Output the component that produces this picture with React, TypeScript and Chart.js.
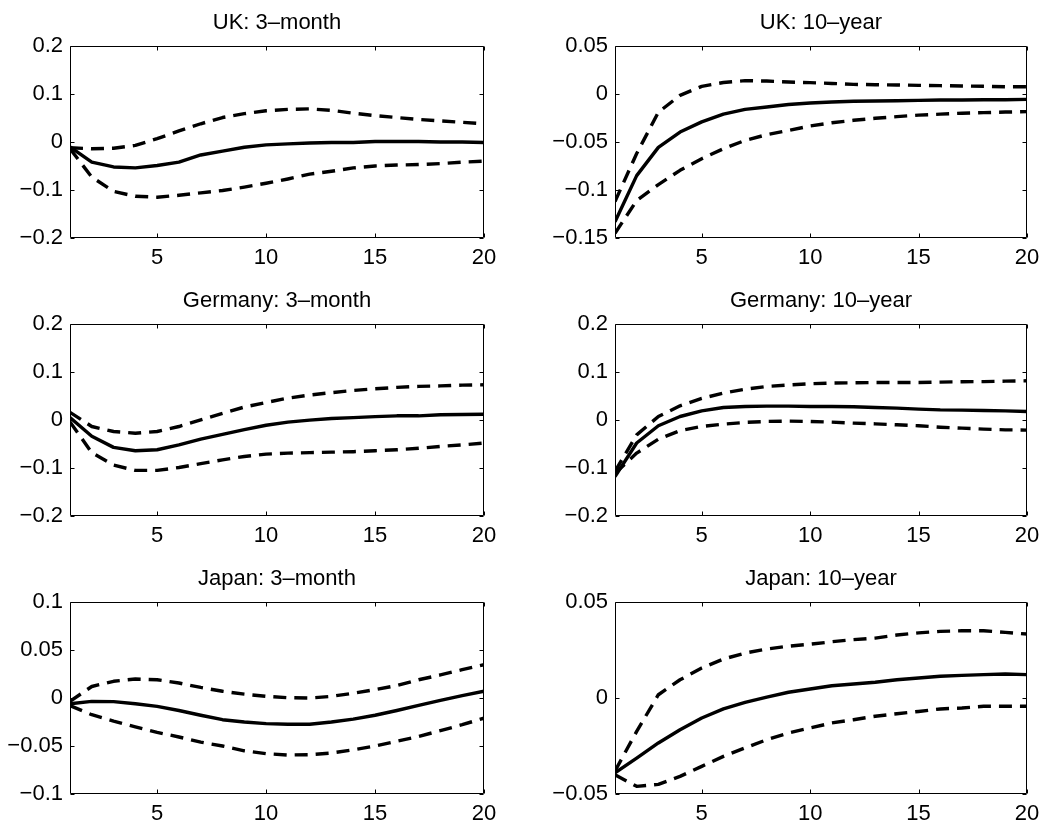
import React, { useEffect, useRef } from "react";
import { Chart, registerables } from "chart.js";

Chart.register(...registerables);

// ---------- data ----------
const horizons = [1, 2, 3, 4, 5, 6, 7, 8, 9, 10, 11, 12, 13, 14, 15, 16, 17, 18, 19, 20];
const xTickValues = [5, 10, 15, 20];
const xTickLabels = ["5", "10", "15", "20"];

const titles = [
  "UK: 3–month",
  "UK: 10–year",
  "Germany: 3–month",
  "Germany: 10–year",
  "Japan: 3–month",
  "Japan: 10–year",
];

const yTicksWide = [-0.2, -0.1, 0, 0.1, 0.2];
const yLabelsWide = ["−0.2", "−0.1", "0", "0.1", "0.2"];
const yTicksUK10 = [-0.15, -0.1, -0.05, 0, 0.05];
const yLabelsUK10 = ["−0.15", "−0.1", "−0.05", "0", "0.05"];
const yTicksJP3 = [-0.1, -0.05, 0, 0.05, 0.1];
const yLabelsJP3 = ["−0.1", "−0.05", "0", "0.05", "0.1"];
const yTicksJP10 = [-0.05, 0, 0.05];
const yLabelsJP10 = ["−0.05", "0", "0.05"];

// UK 3-month
const ukShortMedian = [-0.01, -0.042, -0.052, -0.054, -0.049, -0.042, -0.027, -0.019, -0.011, -0.006, -0.004, -0.002, -0.001, -0.001, 0.001, 0.001, 0.001, 0, 0, -0.001];
const ukShortUpper = [-0.012, -0.014, -0.013, -0.007, 0.007, 0.023, 0.038, 0.051, 0.059, 0.065, 0.068, 0.069, 0.066, 0.06, 0.055, 0.051, 0.047, 0.044, 0.041, 0.038];
const ukShortLower = [-0.014, -0.073, -0.103, -0.113, -0.115, -0.111, -0.106, -0.101, -0.094, -0.086, -0.077, -0.067, -0.061, -0.054, -0.05, -0.048, -0.047, -0.045, -0.042, -0.04];

// UK 10-year
const ukLongMedian = [-0.133, -0.085, -0.0556, -0.0396, -0.029, -0.021, -0.016, -0.0135, -0.011, -0.0094, -0.0083, -0.0076, -0.0073, -0.007, -0.0066, -0.0063, -0.0063, -0.006, -0.006, -0.0056];
const ukLongUpper = [-0.112, -0.062, -0.019, -0.0014, 0.008, 0.012, 0.0139, 0.0135, 0.0125, 0.0118, 0.011, 0.01, 0.0097, 0.0094, 0.009, 0.0087, 0.0083, 0.008, 0.0076, 0.0076];
const ukLongLower = [-0.145, -0.111, -0.0944, -0.0795, -0.0674, -0.057, -0.0483, -0.0424, -0.038, -0.0333, -0.03, -0.0274, -0.0253, -0.0236, -0.022, -0.021, -0.02, -0.0194, -0.0188, -0.0184];

// Germany 3-month
const deShortMedian = [0.005, -0.034, -0.057, -0.064, -0.062, -0.052, -0.04, -0.03, -0.02, -0.011, -0.0045, -0.0003, 0.003, 0.005, 0.007, 0.0087, 0.0087, 0.011, 0.0115, 0.012];
const deShortUpper = [0.016, -0.0136, -0.024, -0.0275, -0.024, -0.0136, 0.0003, 0.014, 0.027, 0.0365, 0.0456, 0.052, 0.057, 0.0616, 0.065, 0.068, 0.07, 0.071, 0.0727, 0.0734];
const deShortLower = [-0.004, -0.068, -0.094, -0.105, -0.105, -0.099, -0.091, -0.083, -0.076, -0.071, -0.069, -0.068, -0.067, -0.066, -0.064, -0.062, -0.059, -0.055, -0.052, -0.048];

// Germany 10-year
const deLongMedian = [-0.118, -0.048, -0.012, 0.0073, 0.019, 0.026, 0.028, 0.029, 0.029, 0.028, 0.028, 0.0275, 0.026, 0.0247, 0.0226, 0.021, 0.0205, 0.0198, 0.019, 0.0177];
const deLongUpper = [-0.107, -0.031, 0.0073, 0.0296, 0.045, 0.056, 0.064, 0.07, 0.073, 0.0755, 0.077, 0.0776, 0.078, 0.078, 0.078, 0.079, 0.0797, 0.08, 0.081, 0.0817];
const deLongLower = [-0.111, -0.069, -0.04, -0.022, -0.0135, -0.0087, -0.005, -0.003, -0.0024, -0.003, -0.0045, -0.0066, -0.008, -0.01, -0.012, -0.015, -0.017, -0.019, -0.0205, -0.021];

// Japan 3-month
const jpShortMedian = [-0.006, -0.0035, -0.0038, -0.006, -0.0087, -0.013, -0.018, -0.0226, -0.025, -0.0267, -0.0274, -0.0274, -0.025, -0.022, -0.018, -0.013, -0.0076, -0.0024, 0.0024, 0.007];
const jpShortUpper = [-0.0035, 0.012, 0.0174, 0.0198, 0.019, 0.0156, 0.011, 0.007, 0.004, 0.0017, 0.0003, 0, 0.0017, 0.005, 0.0087, 0.013, 0.019, 0.024, 0.0295, 0.0347];
const jpShortLower = [-0.008, -0.0174, -0.024, -0.03, -0.0358, -0.0406, -0.046, -0.05, -0.055, -0.058, -0.0594, -0.059, -0.0573, -0.054, -0.05, -0.045, -0.04, -0.034, -0.0278, -0.021];

// Japan 10-year
const jpLongMedian = [-0.039, -0.0313, -0.0234, -0.0165, -0.0104, -0.0057, -0.0023, 0.0005, 0.003, 0.0047, 0.0064, 0.0073, 0.0082, 0.0095, 0.0104, 0.0113, 0.0118, 0.0122, 0.0125, 0.0122];
const jpLongUpper = [-0.038, -0.0174, 0.0017, 0.0095, 0.0156, 0.0203, 0.0234, 0.0255, 0.027, 0.028, 0.0293, 0.0304, 0.0312, 0.0328, 0.0339, 0.0347, 0.035, 0.035, 0.0342, 0.0333];
const jpLongLower = [-0.04, -0.046, -0.045, -0.0408, -0.0356, -0.0304, -0.026, -0.0217, -0.0182, -0.0156, -0.013, -0.0113, -0.0095, -0.0082, -0.007, -0.0057, -0.0052, -0.0043, -0.0043, -0.0043];

// ---------- presentation ----------
const FONT = "'Liberation Sans', Arial, Helvetica, sans-serif";
const TICK_LEN = 4;

type PanelProps = {
  title: string;
  median: number[];
  upper: number[];
  lower: number[];
  yTicks: number[];
  yLabels: string[];
  left: number;
  top: number;
  width: number;
  height: number;
  axisWidth: number;
  padRight: number;
};

function Panel(p: PanelProps) {
  const ref = useRef<HTMLCanvasElement | null>(null);

  useEffect(() => {
    if (!ref.current) return;
    const yTicks = p.yTicks;
    const frame = {
      id: "frame",
      afterDatasetsDraw(chart: any) {
        const { ctx, chartArea: a, scales } = chart;
        const L = Math.round(a.left) + 0.5;
        const R = Math.round(a.right) - 0.5;
        const T = Math.round(a.top) + 0.5;
        const B = Math.round(a.bottom) - 0.5;
        ctx.save();
        ctx.strokeStyle = "#000";
        ctx.lineWidth = 1;
        ctx.setLineDash([]);
        ctx.beginPath();
        ctx.rect(L, T, R - L, B - T);
        for (const v of xTickValues) {
          const px = Math.round(scales.x.getPixelForValue(v)) + 0.5;
          ctx.moveTo(px, B);
          ctx.lineTo(px, B - TICK_LEN);
          ctx.moveTo(px, T);
          ctx.lineTo(px, T + TICK_LEN);
        }
        for (const v of yTicks) {
          const py = Math.round(scales.y.getPixelForValue(v)) + 0.5;
          ctx.moveTo(L, py);
          ctx.lineTo(L + TICK_LEN, py);
          ctx.moveTo(R, py);
          ctx.lineTo(R - TICK_LEN, py);
        }
        ctx.stroke();
        ctx.restore();
      },
    };

    const line = (vals: number[], dashed: boolean) => ({
      data: horizons.map((h, i) => ({ x: h, y: vals[i] })),
      borderColor: "#000",
      borderWidth: 3.4,
      borderDash: dashed ? [13, 8] : [],
      borderJoinStyle: "round" as const,
      pointRadius: 0,
      tension: 0,
      fill: false,
    });

    const chart = new Chart(ref.current, {
      type: "line",
      data: {
        datasets: [line(p.upper, true), line(p.lower, true), line(p.median, false)],
      },
      options: {
        animation: false,
        responsive: true,
        maintainAspectRatio: false,
        layout: { padding: { left: 0, right: p.padRight, top: 0, bottom: 0 } },
        plugins: {
          legend: { display: false },
          tooltip: { enabled: false },
          title: {
            display: true,
            text: p.title,
            fullSize: false,
            color: "#000",
            font: { family: FONT, size: 22, weight: "normal", lineHeight: 1.2 },
            padding: { top: 9.3, bottom: 10.3 },
          },
        },
        scales: {
          x: {
            type: "linear",
            min: 1,
            max: 20,
            grid: { display: false, drawTicks: false },
            border: { display: false },
            afterBuildTicks: (s: any) => {
              s.ticks = xTickValues.map((v) => ({ value: v }));
            },
            afterFit: (s: any) => {
              s.height = 40;
              s.paddingLeft = 0;
              s.paddingRight = 0;
            },
            ticks: {
              padding: 7,
              color: "#000",
              autoSkip: false,
              maxRotation: 0,
              font: { family: FONT, size: 22 },
              callback: (_v: any, i: number) => xTickLabels[i],
            },
          },
          y: {
            type: "linear",
            min: yTicks[0],
            max: yTicks[yTicks.length - 1],
            grid: { display: false, drawTicks: false },
            border: { display: false },
            afterBuildTicks: (s: any) => {
              s.ticks = yTicks.map((v) => ({ value: v }));
            },
            afterFit: (s: any) => {
              s.width = p.axisWidth;
              s.paddingTop = 0;
              s.paddingBottom = 0;
            },
            ticks: {
              padding: 7,
              color: "#000",
              autoSkip: false,
              font: { family: FONT, size: 22 },
              callback: (_v: any, i: number) => p.yLabels[i],
            },
          },
        },
      },
      plugins: [frame],
    } as any);

    return () => chart.destroy();
  }, []);

  return (
    <div
      style={{
        position: "absolute",
        left: p.left,
        top: p.top,
        width: p.width,
        height: p.height,
      }}
    >
      <canvas ref={ref} />
    </div>
  );
}

export default function App() {
  const series = [
    [ukShortMedian, ukShortUpper, ukShortLower, yTicksWide, yLabelsWide],
    [ukLongMedian, ukLongUpper, ukLongLower, yTicksUK10, yLabelsUK10],
    [deShortMedian, deShortUpper, deShortLower, yTicksWide, yLabelsWide],
    [deLongMedian, deLongUpper, deLongLower, yTicksWide, yLabelsWide],
    [jpShortMedian, jpShortUpper, jpShortLower, yTicksJP3, yLabelsJP3],
    [jpLongMedian, jpLongUpper, jpLongLower, yTicksJP10, yLabelsJP10],
  ] as any[];

  const rowTops = [0, 278, 556];

  return (
    <div
      style={{
        position: "absolute",
        left: 0,
        top: 0,
        width: 1044,
        height: 822,
        overflow: "hidden",
        background: "#fff",
      }}
    >
      {series.map((s, i) => {
        const col = i % 2;
        const row = Math.floor(i / 2);
        return (
          <Panel
            key={i}
            title={titles[i]}
            median={s[0]}
            upper={s[1]}
            lower={s[2]}
            yTicks={s[3]}
            yLabels={s[4]}
            left={col === 0 ? 0 : 520}
            top={rowTops[row]}
            width={520}
            height={278}
            axisWidth={col === 0 ? 70 : 95}
            padRight={col === 0 ? 36 : 13}
          />
        );
      })}
    </div>
  );
}
